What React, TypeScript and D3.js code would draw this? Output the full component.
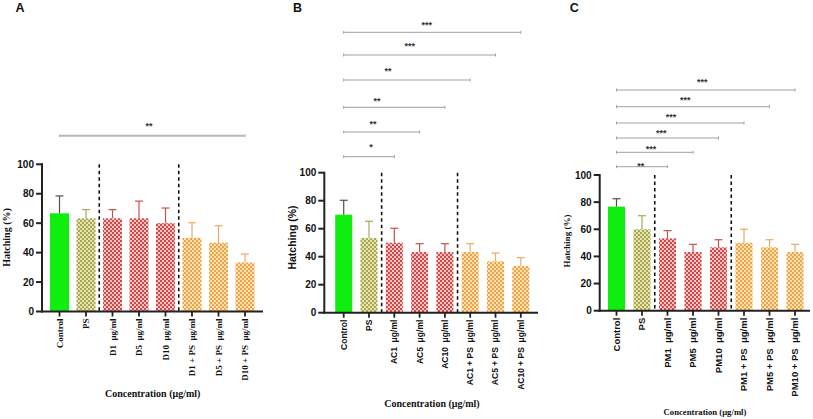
import React from "react";
import * as d3 from "d3";

// ---------- DATA ----------
const categoriesA = ["Control", "PS", "D1  μg/ml", "D5  μg/ml", "D10  μg/ml", "D1 + PS  μg/ml", "D5 + PS  μg/ml", "D10 + PS  μg/ml"];
const meansA = [66.7, 63.3, 63.3, 63.3, 60, 50, 46.7, 33.3];
const upperA = [78.5, 69.2, 69.2, 75, 70.3, 60.3, 58.3, 39];

const categoriesB = ["Control", "PS", "AC1  μg/ml", "AC5  μg/ml", "AC10  μg/ml", "AC1 + PS  μg/ml", "AC5 + PS  μg/ml", "AC10 + PS  μg/ml"];
const meansB = [70, 53.3, 50, 43.3, 43.3, 43.3, 36.7, 33.3];
const upperB = [80.3, 65.3, 60.3, 49.3, 49.3, 49.3, 42.6, 39.3];

const categoriesC = ["Control", "PS", "PM1  μg/ml", "PM5  μg/ml", "PM10  μg/ml", "PM1 + PS  μg/ml", "PM5 + PS  μg/ml", "PM10 + PS  μg/ml"];
const meansC = [76.7, 60, 53.3, 43.3, 46.7, 50, 46.7, 43.3];
const upperC = [82.5, 70, 59, 48.9, 52.3, 60, 52.3, 48.9];

const groups = ["control", "ps", "single", "single", "single", "combo", "combo", "combo"];

const sigToA = [7];
const sigLabelA = ["**"];
const sigToB = [2, 3, 4, 5, 6, 7];
const sigLabelB = ["*", "**", "**", "**", "***", "***"];
const sigToC = [2, 3, 4, 5, 6, 7];
const sigLabelC = ["**", "***", "***", "***", "***", "***"];

const yTicks = [0, 20, 40, 60, 80, 100];
const panelTitles = ["A", "B", "C"];
const yTitle = "Hatching (%)";
const xTitle = "Concentration (μg/ml)";

// ---------- STYLE / LAYOUT ----------
const SANS = "'Liberation Sans', Arial, sans-serif";
const SERIF = "'Liberation Serif', 'Times New Roman', serif";

const styles: Record<string, { fill: string; err: string }> = {
  control: { fill: "#10ee10", err: "#505050" },
  ps: { fill: "url(#pat-ps)", err: "#a8a860" },
  single: { fill: "url(#pat-red)", err: "#c85050" },
  combo: { fill: "url(#pat-orange)", err: "#eaaa66" },
};

type Layout = {
  titleX: number;
  axisX: number;
  y0: number;
  y100: number;
  xEnd: number;
  band: [number, number];
  pad: number;
  tickFont: string;
  tickSize: number;
  yLabelFont: string;
  yLabelSize: number;
  yLabelX: number;
  yLabelY: number;
  xTitleX: number;
  xTitleY: number;
  xTitleSize: number;
  sigY: number[];
  sigLabelX: number[];
  sigLabelY: number[];
  sigWidth: number;
  sigColor: string;
};

const layouts: Layout[] = [
  {
    titleX: 15.5, axisX: 42, y0: 311.5, y100: 164.3, xEnd: 263, band: [46.25, 258.25], pad: 0.283,
    tickFont: SERIF, tickSize: 9, yLabelFont: SERIF, yLabelSize: 10, yLabelX: 6.5, yLabelY: 237.5,
    xTitleX: 152.7, xTitleY: 397, xTitleSize: 10,
    sigY: [135.7], sigLabelX: [149], sigLabelY: [129], sigWidth: 2, sigColor: "#b8b8b8",
  },
  {
    titleX: 293, axisX: 324.3, y0: 312.7, y100: 172.7, xEnd: 538, band: [331.05, 533.45], pad: 0.328,
    tickFont: SANS, tickSize: 8.5, yLabelFont: SANS, yLabelSize: 10.5, yLabelX: 292, yLabelY: 237.5,
    xTitleX: 432, xTitleY: 406.5, xTitleSize: 10,
    sigY: [156.7, 132, 107.3, 80, 55, 32.3], sigLabelX: [371, 373, 377, 388, 409.7, 426.7],
    sigLabelY: [149.5, 126.5, 104, 74, 49, 27.5], sigWidth: 1, sigColor: "#a0a0a0",
  },
  {
    titleX: 569.7, axisX: 599.7, y0: 310.7, y100: 175, xEnd: 810, band: [603.75, 807.75], pad: 0.333,
    tickFont: SANS, tickSize: 9.5, yLabelFont: SERIF, yLabelSize: 9, yLabelX: 566.5, yLabelY: 241,
    xTitleX: 705, xTitleY: 415, xTitleSize: 8.7,
    sigY: [166.7, 152.3, 138, 123, 106.7, 90], sigLabelX: [640.7, 651, 661.3, 671, 685.3, 702.3],
    sigLabelY: [169, 152, 135.5, 119.5, 103, 85], sigWidth: 1, sigColor: "#a0a0a0",
  },
];

const panelsData = [
  { cats: categoriesA, means: meansA, upper: upperA, sigTo: sigToA, sigLabel: sigLabelA },
  { cats: categoriesB, means: meansB, upper: upperB, sigTo: sigToB, sigLabel: sigLabelB },
  { cats: categoriesC, means: meansC, upper: upperC, sigTo: sigToC, sigLabel: sigLabelC },
];

function Checker({ id, dark, light }: { id: string; dark: string; light: string }) {
  return (
    <pattern id={id} width={4} height={4} patternUnits="userSpaceOnUse">
      <rect width={4} height={4} fill={light} />
      <rect width={2} height={2} fill={dark} />
      <rect x={2} y={2} width={2} height={2} fill={dark} />
    </pattern>
  );
}

function Panel({ idx }: { idx: number }) {
  const L = layouts[idx];
  const D = panelsData[idx];
  const x = d3.scaleBand<string>().domain(D.cats).range(L.band).paddingInner(L.pad).paddingOuter(L.pad / 2);
  const y = d3.scaleLinear().domain([0, 100]).range([L.y0, L.y100]);
  const bw = x.bandwidth();
  const cx = (i: number) => (x(D.cats[i]) as number) + bw / 2;
  const dividers = [(cx(1) + cx(2)) / 2, (cx(4) + cx(5)) / 2];

  return (
    <g>
      <text x={L.titleX} y={12} fontFamily={SANS} fontWeight="bold" fontSize={12.5} fill="#111">
        {panelTitles[idx]}
      </text>

      {/* bars */}
      {D.cats.map((c, i) => {
        const st = styles[groups[i]];
        const top = y(D.means[i]);
        const eTop = y(D.upper[i]);
        const xc = cx(i);
        return (
          <g key={c}>
            <rect x={x(c)} y={top} width={bw} height={L.y0 - top} fill={st.fill} />
            <line x1={xc} x2={xc} y1={top} y2={eTop} stroke={st.err} strokeWidth={1.2} />
            <line x1={xc - 4} x2={xc + 4} y1={eTop} y2={eTop} stroke={st.err} strokeWidth={1.2} />
          </g>
        );
      })}

      {/* dividers */}
      {dividers.map((dx, k) => (
        <line key={k} x1={dx} x2={dx} y1={y(100)} y2={L.y0} stroke="#111" strokeWidth={1.6} strokeDasharray="3.5,3" />
      ))}

      {/* y axis */}
      <line x1={L.axisX} x2={L.axisX} y1={y(100) - 1} y2={L.y0 + 1} stroke="#222" strokeWidth={2} />
      {yTicks.map((t) => (
        <g key={t}>
          <line x1={L.axisX - 6} x2={L.axisX} y1={y(t)} y2={y(t)} stroke="#222" strokeWidth={2} />
          <text x={L.axisX - 8} y={y(t)} dy="0.36em" textAnchor="end" fontFamily={SANS} fontWeight="bold" fontSize={10} fill="#111">
            {t}
          </text>
        </g>
      ))}

      {/* x axis */}
      <line x1={L.axisX - 1} x2={L.xEnd} y1={L.y0} y2={L.y0} stroke="#222" strokeWidth={2} />
      {D.cats.map((c, i) => (
        <g key={c}>
          <line x1={cx(i)} x2={cx(i)} y1={L.y0} y2={L.y0 + 5} stroke="#222" strokeWidth={1.8} />
          <text
            transform={`translate(${cx(i)},${L.y0 + 7}) rotate(-90)`}
            dy="0.35em"
            textAnchor="end"
            fontFamily={L.tickFont}
            fontWeight="bold"
            fontSize={L.tickSize}
            fill="#111"
            style={{ whiteSpace: "pre" }}
          >
            {c}
          </text>
        </g>
      ))}

      {/* axis titles */}
      <text
        transform={`translate(${L.yLabelX},${L.yLabelY}) rotate(-90)`}
        dy="0.35em"
        textAnchor="middle"
        fontFamily={L.yLabelFont}
        fontWeight="bold"
        fontSize={L.yLabelSize}
        fill="#111"
      >
        {yTitle}
      </text>
      <text x={L.xTitleX} y={L.xTitleY} textAnchor="middle" fontFamily={SERIF} fontWeight="bold" fontSize={L.xTitleSize} fill="#111">
        {xTitle}
      </text>

      {/* significance */}
      {D.sigTo.map((to, k) => {
        const x1 = cx(0);
        const x2 = cx(to);
        const sy = L.sigY[k];
        return (
          <g key={k}>
            <line x1={x1} x2={x2} y1={sy} y2={sy} stroke={L.sigColor} strokeWidth={L.sigWidth} />
            <line x1={x1} x2={x1} y1={sy - 1.5} y2={sy + 1.5} stroke={L.sigColor} strokeWidth={1} />
            <line x1={x2} x2={x2} y1={sy - 1.5} y2={sy + 1.5} stroke={L.sigColor} strokeWidth={1} />
            <text x={L.sigLabelX[k]} y={L.sigLabelY[k]} textAnchor="middle" fontFamily={SANS} fontWeight="bold" fontSize={9} fill="#333">
              {D.sigLabel[k]}
            </text>
          </g>
        );
      })}
    </g>
  );
}

export default function App() {
  return (
    <svg width={813} height={419} style={{ position: "absolute", left: 0, top: 0, background: "#fff" }}>
      <defs>
        <Checker id="pat-ps" dark="#a9a752" light="#e6e5b0" />
        <Checker id="pat-red" dark="#d44848" light="#f4c6c6" />
        <Checker id="pat-orange" dark="#f0a446" light="#fbe2b6" />
      </defs>
      <rect width={813} height={419} fill="#fff" />
      <Panel idx={0} />
      <Panel idx={1} />
      <Panel idx={2} />
    </svg>
  );
}
